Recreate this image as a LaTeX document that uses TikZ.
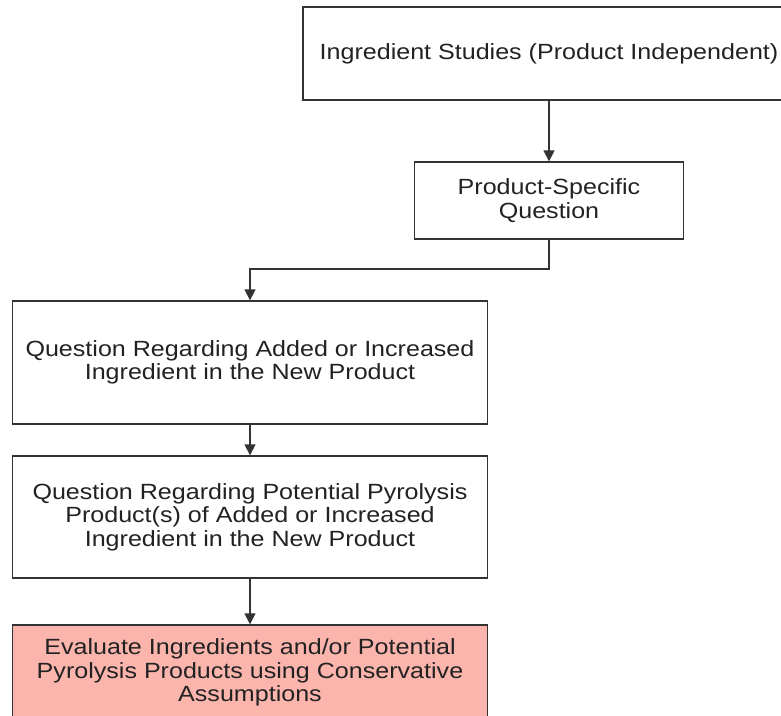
\documentclass[tikz,border=0pt]{standalone}
\usepackage{fontspec}
\setmainfont{Liberation Sans}[FakeStretch=1.14]
\usetikzlibrary{arrows.meta}

\definecolor{boxline}{HTML}{333333}
\definecolor{boxtext}{HTML}{222222}
\definecolor{evalfill}{HTML}{FBB5AD}

\begin{document}
\begin{tikzpicture}[x=1pt,y=-1pt,
  stepbox/.style={draw=boxline,line width=1.3pt,fill=white,align=center,
    text=boxtext,inner sep=0pt,font=\fontsize{22}{23.5}\selectfont},
  flow/.style={draw=boxline,line width=1.3pt,-{Triangle[length=11pt,width=11pt]}}]
\clip (0,0) rectangle (781,715);
\useasboundingbox (0,0) rectangle (781,715);

\node[stepbox,minimum width=492pt,minimum height=93pt] (studies) at (549,53.5)
  {Ingredient Studies (Product Independent)};
\node[stepbox,minimum width=269pt,minimum height=77pt] (specific) at (549,200.5)
  {Product-Specific\\Question};
\node[stepbox,minimum width=475pt,minimum height=123pt] (added) at (250,362.5)
  {Question Regarding Added or Increased\\Ingredient in the New Product};
\node[stepbox,minimum width=475pt,minimum height=122pt] (pyro) at (250,517)
  {Question Regarding Potential Pyrolysis\\Product(s) of Added or Increased\\Ingredient in the New Product};
\node[stepbox,fill=evalfill,minimum width=475pt,minimum height=95pt] (evaluate) at (250,672.5)
  {Evaluate Ingredients and/or Potential\\Pyrolysis Products using Conservative\\Assumptions};

\coordinate (bend) at (549,269);
\draw[flow] (studies) -- (specific);
\draw[flow] (specific.south) -- (bend) -| (added.north);
\draw[flow] (added) -- (pyro);
\draw[flow] (pyro) -- (evaluate);
\end{tikzpicture}
\end{document}
